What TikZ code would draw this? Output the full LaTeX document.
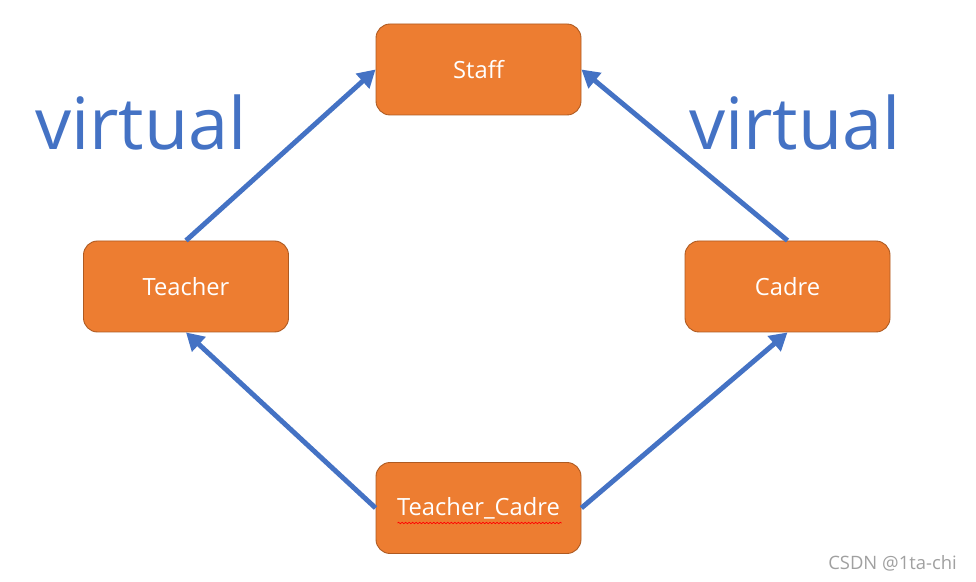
\documentclass[tikz,border=0pt]{standalone}
\usepackage{fontspec}
\setmainfont{Open Sans}
\usetikzlibrary{positioning,arrows.meta,calc,decorations.pathmorphing}
\definecolor{boxfill}{RGB}{237, 125, 49}
\definecolor{boxline}{RGB}{174, 90, 33}
\definecolor{linkblue}{RGB}{68, 114, 196}
\definecolor{marklight}{RGB}{160, 160, 160}

\begin{document}
\begin{tikzpicture}[
    class/.style={
        rectangle, rounded corners=8pt,
        minimum width=4.1cm, minimum height=1.82cm,
        draw=boxline, line width=0.5pt,
        fill=boxfill,
        text=white,
        font=\fontsize{13.5}{15}\selectfont
    },
    inherit/.style={
        -{Triangle[length=10pt, width=11pt]},
        line width=2.8pt,
        color=linkblue
    },
    tag/.style={
        text=linkblue,
        anchor=base,
        font=\fontsize{41}{48}\selectfont
    }
]

% Canvas
\useasboundingbox (0,0) rectangle (19.52,11.64);

% Classes
\node[class] at (9.57, 10.25) (staff) {Staff};
\node[class] at (3.72, 5.91) (teacher) {Teacher};
\node[class] at (15.75, 5.91) (cadre) {Cadre};
\node[class] at (9.57, 1.48) (tcadre) {Teacher\_Cadre};

% Spell-check mark
\draw[red, line width=0.4pt, decorate,
      decoration={snake, amplitude=0.4pt, segment length=2pt}]
    ($(tcadre.center)+(-1.62,-0.3)$) -- ($(tcadre.center)+(1.66,-0.3)$);

% Inheritance links
\draw[inherit] (teacher.north) -- (staff.west);
\draw[inherit] (cadre.north) -- (staff.east);
\draw[inherit] (tcadre.west) -- (teacher.south);
\draw[inherit] (tcadre.east) -- (cadre.south);

% Labels
\node[tag] at (2.82, 8.64) (virtleft) {virtual};
\node[tag] at (15.9, 8.64) (virtright) {virtual};

% Watermark
\node[text=marklight, font=\fontsize{10.5}{12}\selectfont, anchor=east] at (19.26, 0.38) (mark) {CSDN @1ta-chi};

\end{tikzpicture}
\end{document}
